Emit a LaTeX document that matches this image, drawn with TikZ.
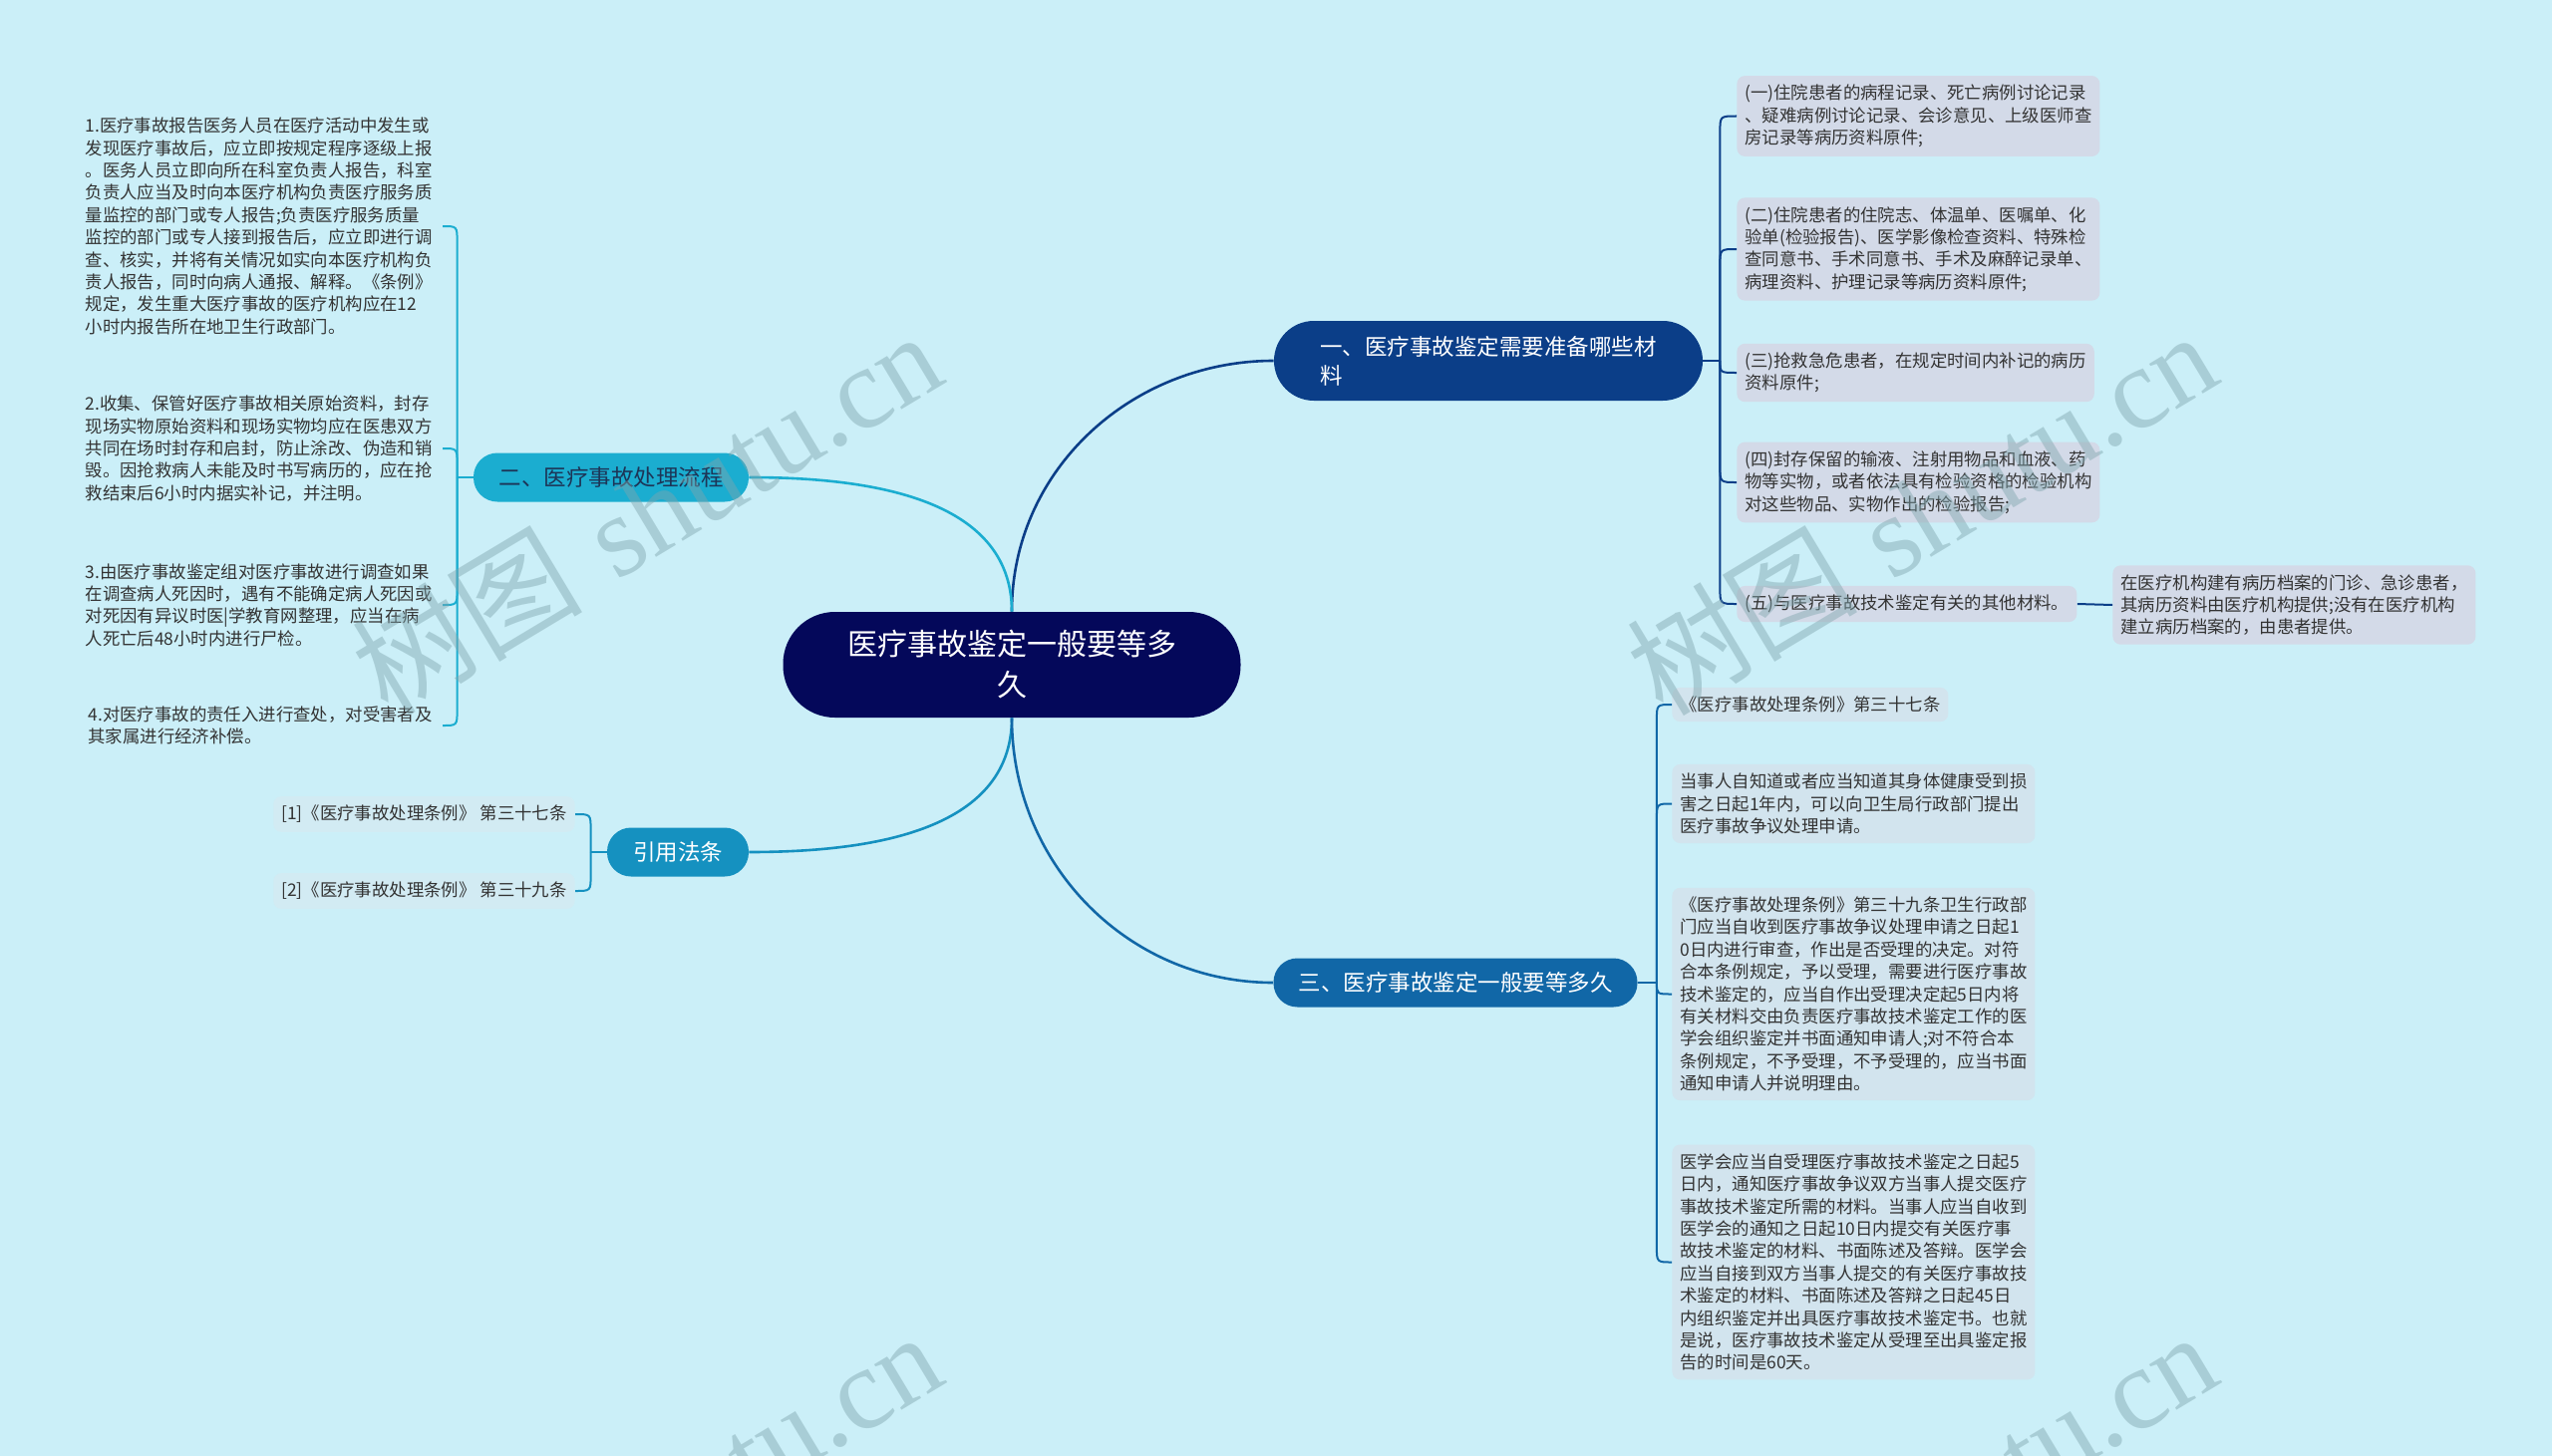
\documentclass[tikz,border=0pt]{standalone}
\usepackage{fontspec}
\newfontfamily\cjk{Noto Sans CJK SC}
\newfontfamily\wmfont{Liberation Serif}
\definecolor{bgcyan}{HTML}{CBEFF8}
\definecolor{rootblue}{HTML}{04085A}
\definecolor{navyline}{HTML}{0B3E88}
\definecolor{cyanline}{HTML}{1BADD0}
\definecolor{citeline}{HTML}{1591C0}
\definecolor{timeline}{HTML}{1167A7}
\definecolor{leafgrey}{HTML}{D3DAE8}
\definecolor{leafblue}{HTML}{D2E4EE}
\definecolor{leafpale}{HTML}{D2EBF3}
\definecolor{leaftext}{HTML}{333333}
\definecolor{darktext}{HTML}{1D3557}
\definecolor{wmcolor}{HTML}{7FA5AD}
\tikzset{
  root node/.style={fill=rootblue, text=white, align=center, rounded corners=26pt,
    minimum width=229.5pt, minimum height=53pt, inner sep=0pt,
    font=\cjk\fontsize{15}{20.5}\selectfont},
  topic/.style={text=white, rounded corners=12pt, minimum height=24.5pt, inner sep=0pt,
    font=\cjk\fontsize{11.25}{14.5}\selectfont},
  leaf/.style={font=\cjk\fontsize{8.7}{11.2}\selectfont, text=leaftext, align=left,
    rounded corners=4pt, inner xsep=4pt, inner ysep=4.5pt},
  matbox/.style={leaf, fill=leafgrey, anchor=west},
  timebox/.style={leaf, fill=leafblue, anchor=west},
  citebox/.style={leaf, fill=leafpale, anchor=east},
  stepnote/.style={leaf, anchor=east, inner xsep=5pt},
  mainline/.style={line width=1.3pt},
  subline/.style={line width=1pt},
  watermark/.style={text=wmcolor, opacity=0.45, rotate=31, font=\fontsize{58}{60}\selectfont}
}
\begin{document}
\begin{tikzpicture}[x=0.5pt,y=-0.5pt]

% page and background
\fill[bgcyan] (0,0) rectangle (2560,1461);
\useasboundingbox (0,0) rectangle (2560,1461);

% central topic
\node[root node] (root) at (1015,667) {医疗事故鉴定一般要等多\\久};

% main branches
\node[topic, fill=navyline, minimum width=215pt, rounded corners=20pt, minimum height=40pt, align=left]
  (yi) at (1493,362) {一、医疗事故鉴定需要准备哪些材\\料};
\node[topic, fill=cyanline, text=darktext, minimum width=138pt] (er) at (613,479) {二、医疗事故处理流程};
\node[topic, fill=citeline, minimum width=71pt] (yy) at (680,855) {引用法条};
\node[topic, fill=timeline, minimum width=182.5pt] (san) at (1460,986) {三、医疗事故鉴定一般要等多久};

% materials (branch one)
\node[matbox] (c1) at (1742,116.5) {(一)住院患者的病程记录、死亡病例讨论记录\\、疑难病例讨论记录、会诊意见、上级医师查\\房记录等病历资料原件;};
\node[matbox] (c2) at (1742,250) {(二)住院患者的住院志、体温单、医嘱单、化\\验单(检验报告)、医学影像检查资料、特殊检\\查同意书、手术同意书、手术及麻醉记录单、\\病理资料、护理记录等病历资料原件;};
\node[matbox] (c3) at (1742,374) {(三)抢救急危患者，在规定时间内补记的病历\\资料原件;};
\node[matbox] (c4) at (1742,484) {(四)封存保留的输液、注射用物品和血液、药\\物等实物，或者依法具有检验资格的检验机构\\对这些物品、实物作出的检验报告;};
\node[matbox] (c5) at (1742,606) {(五)与医疗事故技术鉴定有关的其他材料。};
\node[matbox] (c6) at (2119,607) {在医疗机构建有病历档案的门诊、急诊患者，\\其病历资料由医疗机构提供;没有在医疗机构\\建立病历档案的，由患者提供。};

% procedure (branch two)
\node[stepnote] (e1) at (444,227) {1.医疗事故报告医务人员在医疗活动中发生或\\发现医疗事故后，应立即按规定程序逐级上报\\。医务人员立即向所在科室负责人报告，科室\\负责人应当及时向本医疗机构负责医疗服务质\\量监控的部门或专人报告;负责医疗服务质量\\监控的部门或专人接到报告后，应立即进行调\\查、核实，并将有关情况如实向本医疗机构负\\责人报告，同时向病人通报、解释。《条例》\\规定，发生重大医疗事故的医疗机构应在12\\小时内报告所在地卫生行政部门。};
\node[stepnote] (e2) at (444,450) {2.收集、保管好医疗事故相关原始资料，封存\\现场实物原始资料和现场实物均应在医患双方\\共同在场时封存和启封，防止涂改、伪造和销\\毁。因抢救病人未能及时书写病历的，应在抢\\救结束后6小时内据实补记，并注明。};
\node[stepnote] (e3) at (444,607) {3.由医疗事故鉴定组对医疗事故进行调查如果\\在调查病人死因时，遇有不能确定病人死因或\\对死因有异议时医|学教育网整理，应当在病\\人死亡后48小时内进行尸检。};
\node[stepnote] (e4) at (444,728) {4.对医疗事故的责任入进行查处，对受害者及\\其家属进行经济补偿。};

% cited articles
\node[citebox] (y1) at (577,817) {{[1]}《医疗事故处理条例》 第三十七条};
\node[citebox] (y2) at (577,894) {{[2]}《医疗事故处理条例》 第三十九条};

% time limits (branch three)
\node[timebox] (s1) at (1677,707) {《医疗事故处理条例》第三十七条};
\node[timebox] (s2) at (1677,806.5) {当事人自知道或者应当知道其身体健康受到损\\害之日起1年内，可以向卫生局行政部门提出\\医疗事故争议处理申请。};
\node[timebox] (s3) at (1677,997.5) {《医疗事故处理条例》第三十九条卫生行政部\\门应当自收到医疗事故争议处理申请之日起1\\0日内进行审查，作出是否受理的决定。对符\\合本条例规定，予以受理，需要进行医疗事故\\技术鉴定的，应当自作出受理决定起5日内将\\有关材料交由负责医疗事故技术鉴定工作的医\\学会组织鉴定并书面通知申请人;对不符合本\\条例规定，不予受理，不予受理的，应当书面\\通知申请人并说明理由。};
\node[timebox] (s4) at (1677,1266.5) {医学会应当自受理医疗事故技术鉴定之日起5\\日内，通知医疗事故争议双方当事人提交医疗\\事故技术鉴定所需的材料。当事人应当自收到\\医学会的通知之日起10日内提交有关医疗事\\故技术鉴定的材料、书面陈述及答辩。医学会\\应当自接到双方当事人提交的有关医疗事故技\\术鉴定的材料、书面陈述及答辩之日起45日\\内组织鉴定并出具医疗事故技术鉴定书。也就\\是说，医疗事故技术鉴定从受理至出具鉴定报\\告的时间是60天。};

% root to branches
\draw[mainline, navyline] (root.north) to[out=90,in=180] (yi.west);
\draw[mainline, cyanline] (root.north) to[out=90,in=0] (er.east);
\draw[mainline, citeline] (root.south) to[out=-90,in=0] (yy.east);
\draw[mainline, timeline] (root.south) to[out=-90,in=180] (san.west);

% trunk points
\coordinate (t1) at ([xshift=8.5pt]yi.east);
\coordinate (t2) at ([xshift=-8pt]er.west);
\coordinate (t3) at ([xshift=-8pt]yy.west);
\coordinate (t4) at ([xshift=9.5pt]san.east);

% branch one brackets
\draw[subline, navyline] (yi.east) -- (t1);
\draw[subline, navyline] (t1) -- ([yshift=-8pt]c1.west -| t1) .. controls (c1.west -| t1) .. (c1.west);
\draw[subline, navyline] (t1) -- ([yshift=-8pt]c2.west -| t1) .. controls (c2.west -| t1) .. (c2.west);
\draw[subline, navyline] (t1) .. controls (c3.west -| t1) .. (c3.west);
\draw[subline, navyline] (t1) -- ([yshift=8pt]c4.west -| t1) .. controls (c4.west -| t1) .. (c4.west);
\draw[subline, navyline] (t1) -- ([yshift=8pt]c5.west -| t1) .. controls (c5.west -| t1) .. (c5.west);
\draw[subline, navyline] (c5.east) -- (c6.west);

% branch two brackets
\draw[subline, cyanline] (er.west) -- (t2);
\draw[subline, cyanline] (t2) -- ([yshift=-8pt]e1.east -| t2) .. controls (e1.east -| t2) .. (e1.east);
\draw[subline, cyanline] (t2) -- ([yshift=-8pt]e2.east -| t2) .. controls (e2.east -| t2) .. (e2.east);
\draw[subline, cyanline] (t2) -- ([yshift=8pt]e3.east -| t2) .. controls (e3.east -| t2) .. (e3.east);
\draw[subline, cyanline] (t2) -- ([yshift=8pt]e4.east -| t2) .. controls (e4.east -| t2) .. (e4.east);

% cited articles brackets
\draw[subline, citeline] (yy.west) -- (t3);
\draw[subline, citeline] (t3) -- ([yshift=-8pt]y1.east -| t3) .. controls (y1.east -| t3) .. (y1.east);
\draw[subline, citeline] (t3) -- ([yshift=8pt]y2.east -| t3) .. controls (y2.east -| t3) .. (y2.east);

% branch three brackets
\draw[subline, timeline] (san.east) -- (t4);
\draw[subline, timeline] (t4) -- ([yshift=-8pt]s1.west -| t4) .. controls (s1.west -| t4) .. (s1.west);
\draw[subline, timeline] (t4) -- ([yshift=-8pt]s2.west -| t4) .. controls (s2.west -| t4) .. (s2.west);
\draw[subline, timeline] (t4) .. controls (s3.west -| t4) .. (s3.west);
\draw[subline, timeline] (t4) -- ([yshift=8pt]s4.west -| t4) .. controls (s4.west -| t4) .. (s4.west);

% watermarks
\node[watermark] (w1) at (648,514) {{\cjk 树图} {\wmfont shutu.cn}};
\node[watermark] (w2) at (1927,514) {{\cjk 树图} {\wmfont shutu.cn}};
\node[watermark] (w3) at (648,1518) {{\cjk 树图} {\wmfont shutu.cn}};
\node[watermark] (w4) at (1927,1518) {{\cjk 树图} {\wmfont shutu.cn}};

\end{tikzpicture}
\end{document}
